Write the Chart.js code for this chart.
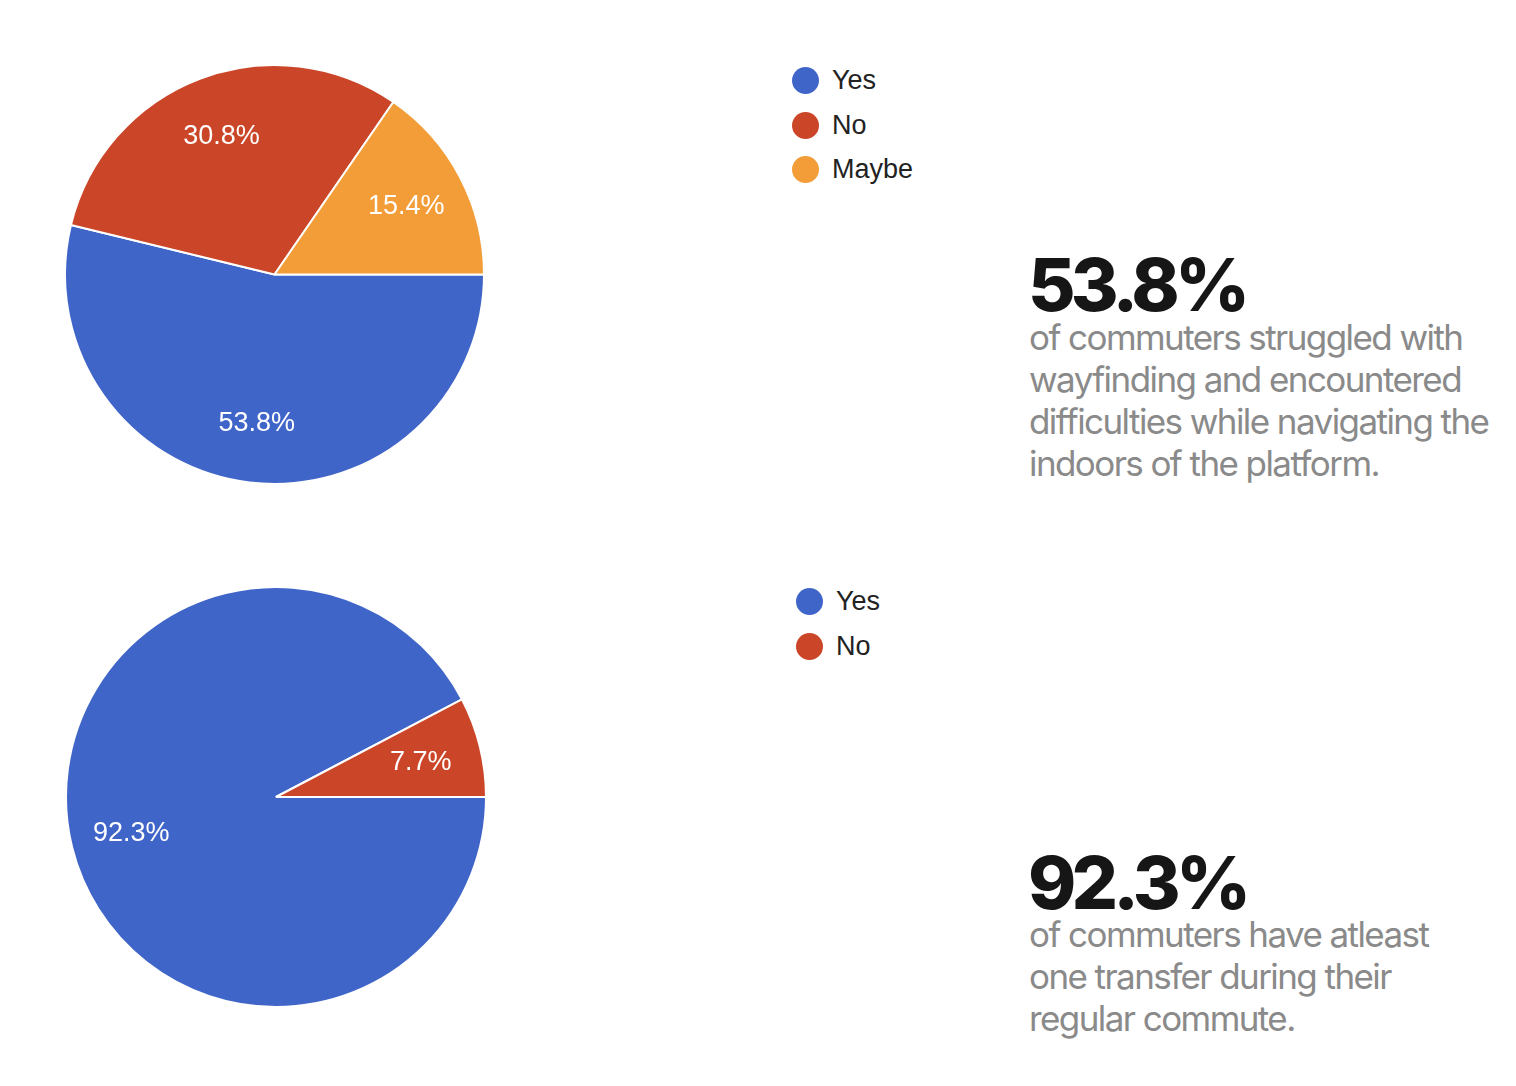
<!DOCTYPE html>
<html>
<head>
<meta charset="utf-8">
<script src="https://cdn.jsdelivr.net/npm/chart.js@4"></script>
<style>
  html, body { margin: 0; padding: 0; background: #fff; width: 1516px; height: 1086px; overflow: hidden; }
  canvas { position: absolute; }
  .legend { position: absolute; font-family: "Liberation Sans", Arial, sans-serif; font-size: 27px; color: #222; }
  .legend .item { position: relative; height: 44.5px; line-height: 44.5px; padding-left: 40px; }
  .legend .dot { position: absolute; left: 0; top: 9px; width: 27px; height: 27px; border-radius: 50%; }
  .big { position: absolute; font-family: Inter, "Liberation Sans", sans-serif; font-weight: 800; font-size: 73px; letter-spacing: -0.065em; color: #161616; line-height: 1; }
  .body { position: absolute; font-family: Inter, "Liberation Sans", sans-serif; font-weight: 400; font-size: 35px; letter-spacing: -0.045em; color: #8a8a8a; line-height: 42px; }
</style>
</head>
<body>
<canvas id="pie1" width="421" height="421" style="left:64px;top:64px"></canvas>
<canvas id="pie2" width="422" height="422" style="left:65px;top:586px"></canvas>
<div id="legend1" class="legend" style="left:792px;top:58px"></div>
<div id="legend2" class="legend" style="left:796px;top:579px"></div>
<div id="big1" class="big" style="left:1028px;top:248px"></div>
<div id="body1" class="body" style="left:1029px;top:316px;width:486px"></div>
<div id="big2" class="big" style="left:1028px;top:846px"></div>
<div id="body2" class="body" style="left:1029px;top:913px;width:486px"></div>
<script>
const colors = ['#4065c8', '#cb4628', '#f29d38'];

const labels1 = ['Yes', 'No', 'Maybe'];
const values1 = [53.8, 30.8, 15.4];
const stat1 = '53.8%';
const text1 = 'of commuters struggled with<br>wayfinding and encountered<br>difficulties while navigating the<br>indoors of the platform.';

const labels2 = ['Yes', 'No'];
const values2 = [92.3, 7.7];
const stat2 = '92.3%';
const text2 = 'of commuters have atleast<br>one transfer during their<br>regular commute.';

const sliceLabels = {
  id: 'sliceLabels',
  afterDatasetsDraw(chart) {
    const ctx = chart.ctx;
    const meta = chart.getDatasetMeta(0);
    const ds = chart.data.datasets[0];
    ctx.save();
    ctx.fillStyle = '#ffffff';
    ctx.font = '27px "Liberation Sans", Arial, sans-serif';
    ctx.textAlign = 'center';
    ctx.textBaseline = 'middle';
    meta.data.forEach((arc, i) => {
      const p = arc.getProps(['x', 'y', 'startAngle', 'endAngle', 'outerRadius'], true);
      const mid = (p.startAngle + p.endAngle) / 2;
      const r = p.outerRadius * 0.71;
      ctx.fillText(ds.data[i].toFixed(1) + '%', p.x + Math.cos(mid) * r, p.y + Math.sin(mid) * r + 1);
    });
    ctx.restore();
  }
};

function makePie(id, labels, values) {
  return new Chart(document.getElementById(id), {
    type: 'pie',
    data: {
      labels: labels,
      datasets: [{
        data: values,
        backgroundColor: colors.slice(0, values.length),
        borderColor: '#ffffff',
        borderWidth: 2
      }]
    },
    options: {
      responsive: false,
      animation: false,
      rotation: 90,
      layout: { padding: 0 },
      plugins: { legend: { display: false }, tooltip: { enabled: false } }
    },
    plugins: [sliceLabels]
  });
}

function makeLegend(id, labels) {
  const el = document.getElementById(id);
  labels.forEach((l, i) => {
    const item = document.createElement('div');
    item.className = 'item';
    const dot = document.createElement('span');
    dot.className = 'dot';
    dot.style.background = colors[i];
    item.appendChild(dot);
    item.appendChild(document.createTextNode(l));
    el.appendChild(item);
  });
}

makePie('pie1', labels1, values1);
makePie('pie2', labels2, values2);
makeLegend('legend1', labels1);
makeLegend('legend2', labels2);
document.getElementById('big1').textContent = stat1;
document.getElementById('body1').innerHTML = text1;
document.getElementById('big2').textContent = stat2;
document.getElementById('body2').innerHTML = text2;
</script>
</body>
</html>
